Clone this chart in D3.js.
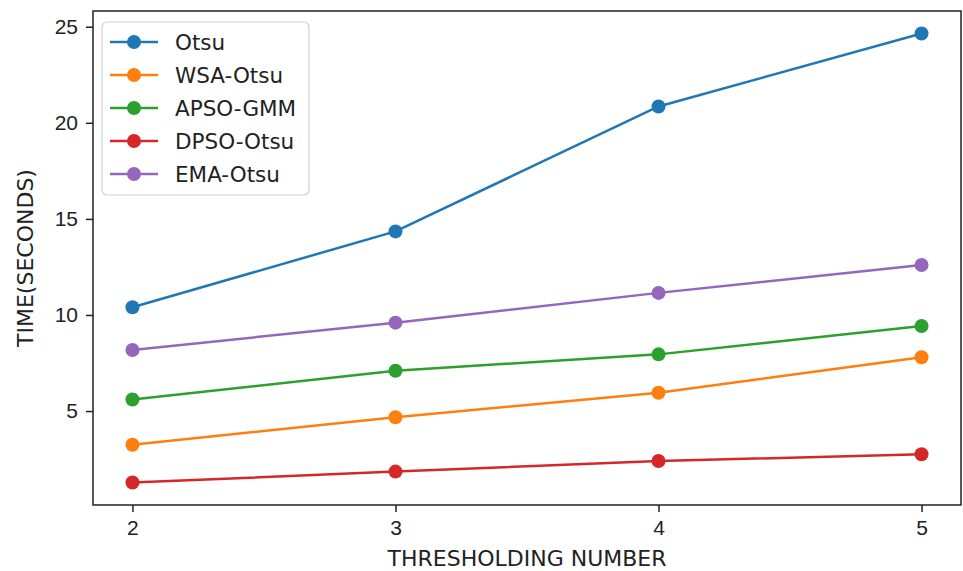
<!DOCTYPE html>
<html>
<head>
<meta charset="utf-8">
<script src="https://cdn.jsdelivr.net/npm/d3@7"></script>
<style>
  body { margin: 0; background: #fff; }
  svg { font-family: "DejaVu Sans", sans-serif; }
</style>
</head>
<body>
<svg id="chart" width="963" height="571"></svg>
<script>
var thresholds = [2, 3, 4, 5];
var seriesNames = ["Otsu", "WSA-Otsu", "APSO-GMM", "DPSO-Otsu", "EMA-Otsu"];
var otsu = [10.4, 14.35, 20.85, 24.65];
var wsaOtsu = [3.25, 4.68, 5.95, 7.8];
var apsoGmm = [5.6, 7.1, 7.95, 9.43];
var dpsoOtsu = [1.28, 1.85, 2.4, 2.75];
var emaOtsu = [8.18, 9.6, 11.15, 12.6];
var yTicks = [5, 10, 15, 20, 25];
var colors = ["#1f77b4", "#ff7f0e", "#2ca02c", "#d62728", "#9467bd"];

var series = [otsu, wsaOtsu, apsoGmm, dpsoOtsu, emaOtsu];

var svg = d3.select("#chart");
var margin = {top: 11, right: 2, bottom: 66, left: 93};
var width = 963 - margin.left - margin.right;
var height = 571 - margin.top - margin.bottom;

var g = svg.append("g")
    .attr("transform", "translate(" + margin.left + "," + margin.top + ")");

// matplotlib style 5% margins
var x = d3.scaleLinear()
    .domain([1.85, 5.15])
    .range([0, width]);

var allVals = d3.merge(series);
var yMin = d3.min(allVals), yMax = d3.max(allVals);
var pad = (yMax - yMin) * 0.05;
var y = d3.scaleLinear()
    .domain([yMin - pad, yMax + pad])
    .range([height, 0]);

var xAxis = d3.axisBottom(x).tickValues(thresholds).tickFormat(d3.format("d")).tickSizeOuter(0).tickSize(7).tickPadding(8);
var yAxis = d3.axisLeft(y).tickValues(yTicks).tickSizeOuter(0).tickSize(7).tickPadding(8);

g.append("g")
    .attr("transform", "translate(0," + height + ")")
    .call(xAxis)
    .call(function(s) { s.select(".domain").remove(); })
    .selectAll("text")
    .style("font-size", "21px")
    .attr("fill", "#222");

g.append("g")
    .call(yAxis)
    .call(function(s) { s.select(".domain").remove(); })
    .selectAll("text")
    .style("font-size", "21px")
    .attr("fill", "#222");

g.selectAll(".tick line").attr("stroke", "#222").attr("stroke-width", 1.5);

var line = d3.line()
    .x(function(d, i) { return x(thresholds[i]); })
    .y(function(d) { return y(d); });

series.forEach(function(vals, k) {
    g.append("path")
        .datum(vals)
        .attr("fill", "none")
        .attr("stroke", colors[k])
        .attr("stroke-width", 2.5)
        .attr("d", line);

    g.selectAll(".pt" + k)
        .data(vals)
        .enter()
        .append("circle")
        .attr("cx", function(d, i) { return x(thresholds[i]); })
        .attr("cy", function(d) { return y(d); })
        .attr("r", 7)
        .attr("fill", colors[k]);
});

// frame
g.append("rect")
    .attr("width", width)
    .attr("height", height)
    .attr("fill", "none")
    .attr("stroke", "#222")
    .attr("stroke-width", 1.5);

// axis titles
svg.append("text")
    .attr("x", margin.left + width / 2)
    .attr("y", 566)
    .attr("text-anchor", "middle")
    .style("font-size", "22px")
    .attr("fill", "#222")
    .text("THRESHOLDING NUMBER");

svg.append("text")
    .attr("transform", "translate(33," + (margin.top + height / 2) + ") rotate(-90)")
    .attr("text-anchor", "middle")
    .style("font-size", "22px")
    .attr("fill", "#222")
    .text("TIME(SECONDS)");

// legend
var legend = svg.append("g").attr("transform", "translate(102,22)");
legend.append("rect")
    .attr("width", 207)
    .attr("height", 173)
    .attr("rx", 5)
    .attr("fill", "#fff")
    .attr("fill-opacity", 0.8)
    .attr("stroke", "#d0d0d0")
    .attr("stroke-width", 1.2);

seriesNames.forEach(function(name, k) {
    var ly = 20 + k * 33;
    legend.append("line")
        .attr("x1", 8).attr("x2", 56)
        .attr("y1", ly).attr("y2", ly)
        .attr("stroke", colors[k])
        .attr("stroke-width", 2.5);
    legend.append("circle")
        .attr("cx", 32).attr("cy", ly)
        .attr("r", 7)
        .attr("fill", colors[k]);
    legend.append("text")
        .attr("x", 73)
        .attr("y", ly)
        .attr("dy", "0.36em")
        .style("font-size", "21.5px")
        .attr("fill", "#222")
        .text(name);
});
</script>
</body>
</html>
